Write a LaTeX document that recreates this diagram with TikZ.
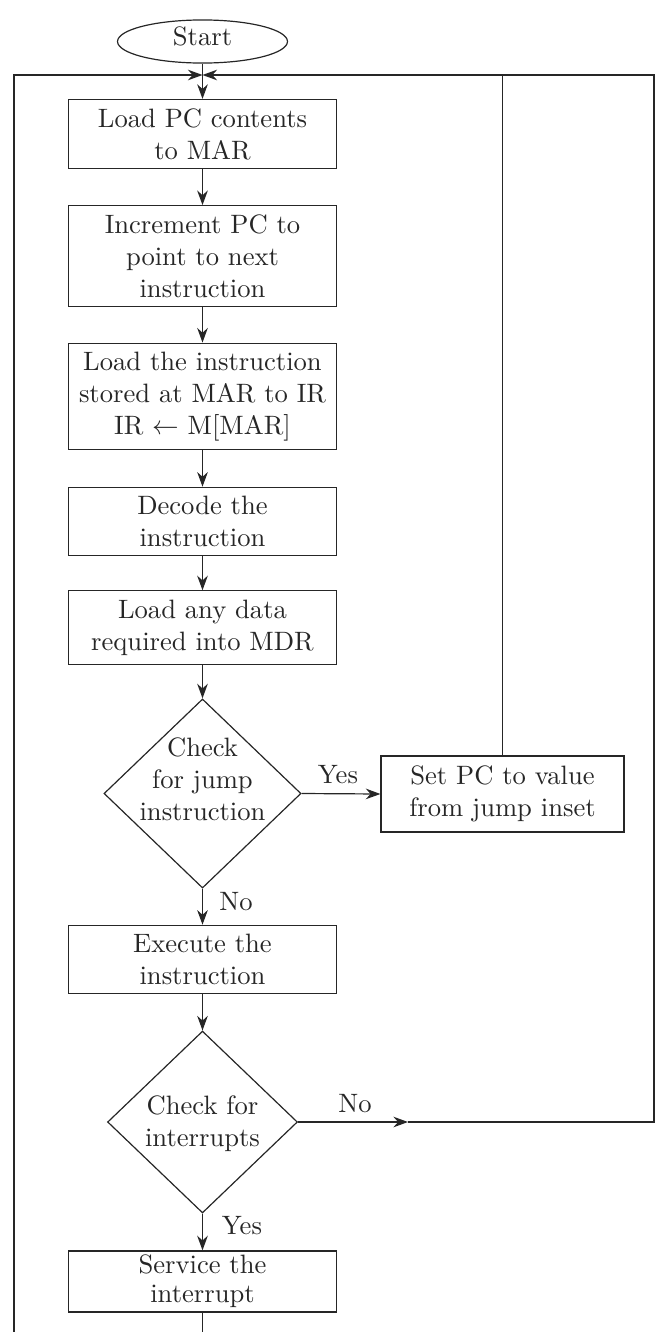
\documentclass[tikz,border=0pt]{standalone}
\usetikzlibrary{shapes.geometric,arrows.meta}
\definecolor{ink}{HTML}{262626}
\begin{document}
\begin{tikzpicture}[
  x=0.376pt, y=-0.376pt,
  every node/.style={text=ink},
  line/.style={draw=ink, line width=0.45pt},
  flow/.style={line, -{Stealth[length=5.5pt,width=4pt]}},
  stepbox/.style={line, rectangle, align=center, text width=94.4pt, inner xsep=3.33pt},
  decision/.style={line, diamond, inner sep=0pt},
  lbl/.style={inner sep=0pt, anchor=base}
]
\useasboundingbox (0,0) rectangle (656,1332);
\clip (0,0) rectangle (656,1332);

% terminal
\node[line, ellipse, minimum width=63.9pt, minimum height=16.2pt, inner sep=0pt, text depth=3.8pt]
  (start) at (202.5,41.5) {Start};

% main column
\node[stepbox] (b1) at (202.5,134)   {Load PC contents\\to MAR};
\node[stepbox] (b2) at (202.5,256)   {Increment PC to\\point to next\\instruction};
\node[stepbox] (b3) at (202.5,396.5) {Load the instruction\\stored at MAR to IR\\IR $\leftarrow$ M[MAR]};
\node[stepbox] (b4) at (202.5,521.5) {Decode the\\instruction};
\node[stepbox] (b5) at (202.5,627.5) {Load any data\\required into MDR};
\node[decision, minimum width=74.1pt, minimum height=71.1pt] (d1) at (202.5,793.5)
  {\makebox[0pt]{\raisebox{1.8pt}[0pt][0pt]{\begin{tabular}{@{}c@{}}Check\\for jump\\instruction\end{tabular}}}};
\node[stepbox, text width=84.7pt, minimum height=28.6pt] (setpc) at (502.5,794)
  {Set PC to value\\from jump inset};
\node[stepbox] (b6) at (202.5,959.5) {Execute the\\instruction};
\node[decision, minimum width=71.4pt, minimum height=68.4pt] (d2) at (202.5,1122)
  {\makebox[0pt]{\raisebox{-3.4pt}[0pt][0pt]{\begin{tabular}{@{}c@{}}Check for\\interrupts\end{tabular}}}};
\node[stepbox, inner ysep=1.5pt] (b7) at (202.5,1281.5) {Service the\\[-1pt]interrupt};

% branch labels
\node[lbl] (yes1) at (338,783)    {Yes};
\node[lbl] (no1)  at (236,910)    {No};
\node[lbl] (no2)  at (355,1112)   {No};
\node[lbl] (yes2) at (242,1234.5) {Yes};

% loop-back points
\coordinate (join) at (202.5,75);
\coordinate (lf) at (14,75);
\coordinate (rt) at (654,75);
\coordinate (notip) at (408,1122);

% straight flow
\draw[flow] (start.south) -- (b1.north);
\draw[flow] (b1.south) -- (b2.north);
\draw[flow] (b2.south) -- (b3.north);
\draw[flow] (b3.south) -- (b4.north);
\draw[flow] (b4.south) -- (b5.north);
\draw[flow] (b5.south) -- (d1.north);
\draw[flow] (d1.east) -- (setpc.west);
\draw[flow] (d1.south) -- (b6.north);
\draw[flow] (b6.south) -- (d2.north);
\draw[flow] (d2.south) -- (b7.north);

% return paths
\draw[line] (setpc.north) -- (setpc.north |- join);
\draw[flow] (d2.east) -- (notip);
\draw[flow] (notip) -| (rt) -- (join);
\draw[flow] (b7.south) -- ++(0,40) -| (lf) -- (join);
\end{tikzpicture}
\end{document}
